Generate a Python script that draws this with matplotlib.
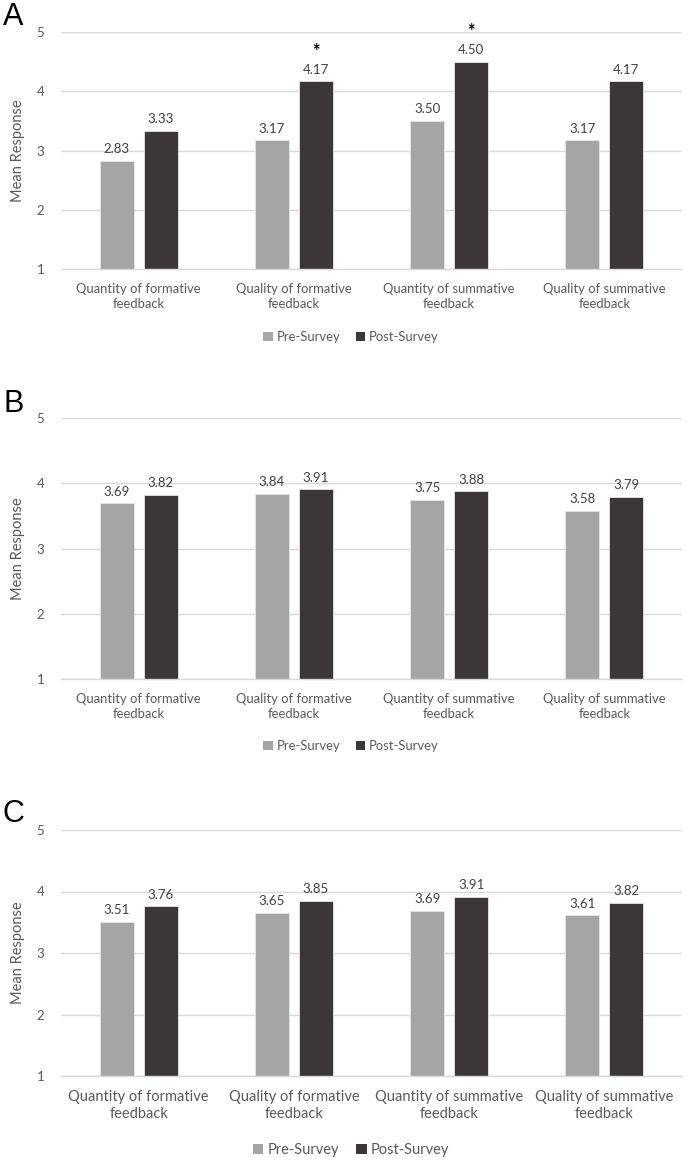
import matplotlib
matplotlib.use("Agg")
import matplotlib.pyplot as plt
import numpy as np
from matplotlib.patches import Patch

categories = ["Quantity of formative\nfeedback", "Quality of formative\nfeedback",
              "Quantity of summative\nfeedback", "Quality of summative\nfeedback"]
series_names = ["Pre-Survey", "Post-Survey"]
pre_A = [2.83, 3.17, 3.50, 3.17]
post_A = [3.33, 4.17, 4.50, 4.17]
sig_A = [False, True, True, False]
pre_B = [3.69, 3.84, 3.75, 3.58]
post_B = [3.82, 3.91, 3.88, 3.79]
pre_C = [3.51, 3.65, 3.69, 3.61]
post_C = [3.76, 3.85, 3.91, 3.82]
yticks = [1, 2, 3, 4, 5]
panel_letters = ["A", "B", "C"]

W, H = 687, 1160
fig = plt.figure(figsize=(W / 100, H / 100), dpi=100)
plt.rcParams['font.family'] = ['Lato', 'DejaVu Sans']

PRE_COL = "#a5a5a5"
POST_COL = "#3b3736"
GRID = "#d9d9d9"
TXT = "#404040"
TICK = "#595959"

def px_axes(left, top, right, bottom):
    return fig.add_axes([left / W, 1 - bottom / H, (right - left) / W, (bottom - top) / H])

panels = [
    dict(pre=pre_A, post=post_A, sig=sig_A, top=32, bottom=269, leg=337, cat_fs=9.4, letter_y=17),
    dict(pre=pre_B, post=post_B, sig=None, top=418, bottom=679, leg=746, cat_fs=9.4, letter_y=404),
    dict(pre=pre_C, post=post_C, sig=None, top=830, bottom=1076, leg=1150, cat_fs=10.5, letter_y=814),
]

bw = 0.22
off = 0.142
for letter, p in zip(panel_letters, panels):
    ax = px_axes(61, p["top"], 682, p["bottom"])
    x = np.arange(len(categories))
    ax.bar(x - off, p["pre"], bw, bottom=0, color=PRE_COL, edgecolor="#e6e6e6", linewidth=0.6, zorder=3)
    ax.bar(x + off, p["post"], bw, bottom=0, color=POST_COL, edgecolor="#e6e6e6", linewidth=0.6, zorder=3)
    ax.set_ylim(1, 5)
    ax.set_xlim(-0.5, 3.5)
    ax.set_yticks(yticks)
    ax.set_yticklabels([str(t) for t in yticks], fontsize=9.5, color=TICK)
    ax.tick_params(axis='y', length=0, pad=12)
    ax.tick_params(axis='x', length=0, pad=10)
    ax.set_xticks(x)
    ax.set_xticklabels(categories, fontsize=p["cat_fs"], color=TICK, linespacing=1.3)
    ax.grid(axis='y', color=GRID, linewidth=1, zorder=0)
    for s in ["top", "right", "left"]:
        ax.spines[s].set_visible(False)
    ax.spines["bottom"].set_color(GRID)
    ax.spines["bottom"].set_linewidth(1)
    ax.spines["bottom"].set_zorder(4)
    ax.set_ylabel("Mean Response", fontsize=10.5, color=TICK, labelpad=8)
    for xi, v in zip(x, p["pre"]):
        ax.annotate(f"{v:.2f}", (xi - off, v), xytext=(0, 4), textcoords="offset points",
                    ha="center", va="bottom", fontsize=9.5, color=TXT)
    for i, (xi, v) in enumerate(zip(x, p["post"])):
        ax.annotate(f"{v:.2f}", (xi + off, v), xytext=(0, 4), textcoords="offset points",
                    ha="center", va="bottom", fontsize=9.5, color=TXT)
        if p["sig"] is not None and p["sig"][i]:
            ax.annotate("*", (xi + off, v), xytext=(0, 15.5), textcoords="offset points",
                        ha="center", va="bottom", fontsize=13, color="black",
                        fontweight="bold", annotation_clip=False)
    handles = [Patch(facecolor=PRE_COL, label=series_names[0]),
               Patch(facecolor=POST_COL, label=series_names[1])]
    fig.legend(handles=handles, loc="center", bbox_to_anchor=(351 / W, 1 - p["leg"] / H),
               ncol=2, frameon=False, fontsize=p["cat_fs"], handlelength=0.7, handleheight=0.7,
               handletextpad=0.3, columnspacing=1.2, labelcolor=TICK)
    fig.text(3 / W, 1 - p["letter_y"] / H, letter, fontsize=22, family="Liberation Sans",
             ha="left", va="center", color="black")

fig.savefig("out.png", dpi=100)
